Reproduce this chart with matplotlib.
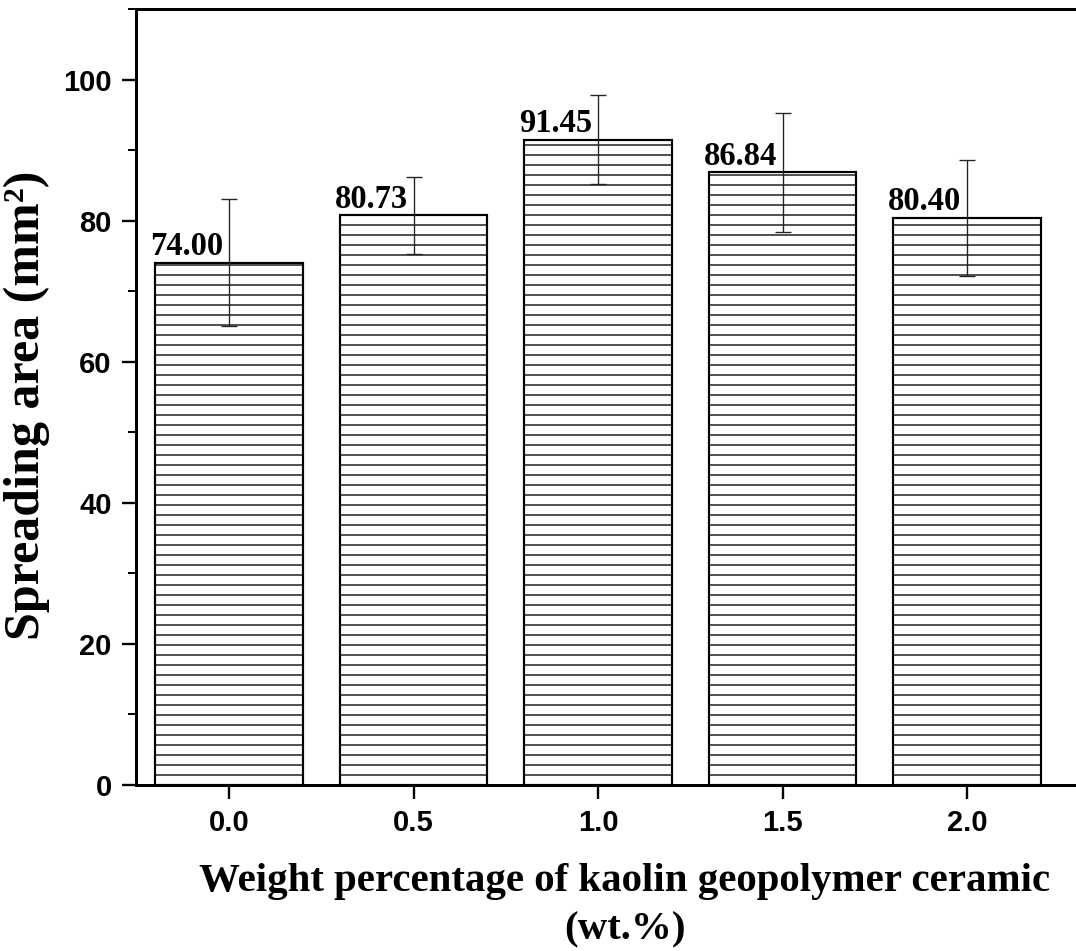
import matplotlib
matplotlib.use("Agg")
import matplotlib.pyplot as plt
import numpy as np
from matplotlib.ticker import MultipleLocator

# data
categories = ["0.0", "0.5", "1.0", "1.5", "2.0"]
spreading = [74.00, 80.73, 91.45, 86.84, 80.40]
errors = [9.0, 5.4, 6.3, 8.4, 8.2]

dpi = 120
plt.rcParams["hatch.linewidth"] = 0.8
plt.rcParams["hatch.color"] = "black"

fig = plt.figure(figsize=(1076 / dpi, 951 / dpi), dpi=dpi, facecolor="white")
ax = fig.add_axes([136 / 1076, 1 - 785 / 951, 1 - 136 / 1076, (785 - 9) / 951])

x = np.arange(len(categories))
ax.bar(x, spreading, 0.8, color="white", edgecolor="black", linewidth=1.3,
       hatch="--", zorder=2)
ax.errorbar(x, spreading, yerr=errors, fmt="none", ecolor="#222222",
            elinewidth=0.8, capsize=4.8, capthick=0.8, zorder=3)

for xi, v in zip(x, spreading):
    ax.annotate(f"{v:.2f}", (xi - 0.4, v), xytext=(-3, 0.5), textcoords="offset points",
                ha="left", va="bottom", fontsize=19.5, fontweight="bold",
                family="Liberation Serif")

ax.set_xlim(-0.505, 4.59)
ax.set_ylim(0, 110)
ax.set_xticks(x, labels=categories)
ax.yaxis.set_major_locator(MultipleLocator(20))
ax.yaxis.set_minor_locator(MultipleLocator(10))
ax.set_yticks([0, 20, 40, 60, 80, 100])

for lbl in ax.get_xticklabels() + ax.get_yticklabels():
    lbl.set_family("Liberation Sans")
    lbl.set_fontweight("bold")
    lbl.set_fontsize(17.5)

ax.tick_params(axis="both", which="major", direction="out", length=8.5, width=1.4, pad=6)
ax.tick_params(axis="y", which="minor", direction="out", length=5, width=1.2)
ax.tick_params(axis="x", which="minor", bottom=False)

for s in ["left", "bottom", "top"]:
    ax.spines[s].set_linewidth(1.8)
ax.spines["right"].set_visible(False)

fig.text(27 / 1076, 1 - 405 / 951, "Spreading area (mm²)", rotation=90,
         ha="center", va="center", fontsize=30, fontweight="bold",
         family="Liberation Serif")
fig.text(625 / 1076, 1 - 882 / 951, "Weight percentage of kaolin geopolymer ceramic",
         ha="center", va="center", fontsize=24.5, fontweight="bold",
         family="Liberation Serif")
fig.text(625 / 1076, 1 - 930 / 951, "(wt.%)",
         ha="center", va="center", fontsize=24.5, fontweight="bold",
         family="Liberation Serif")

fig.savefig("out.png", dpi=dpi, facecolor="white")
